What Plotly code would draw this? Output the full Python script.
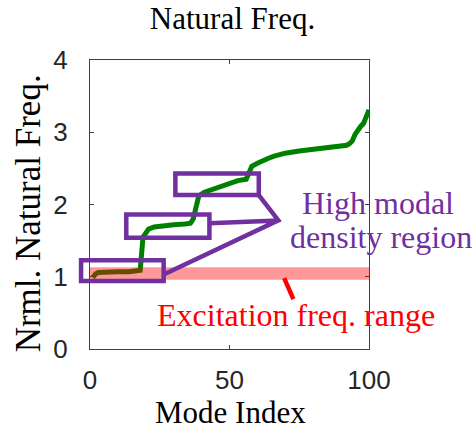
import plotly.graph_objects as go

# ---- data ----
mode_index = [1, 2, 3, 6, 10, 14, 17, 18, 19, 20, 21, 23, 26, 30, 34, 36, 37, 38, 39,
              41, 44, 47, 50, 53, 56, 57, 58, 60, 62, 64, 66, 70, 75, 80, 85, 90,
              92, 93, 94, 95, 96, 97, 98, 99, 100]
nrml_freq = [0.99, 1.04, 1.06, 1.07, 1.07, 1.07, 1.08, 1.09, 1.55, 1.62, 1.66, 1.69, 1.71,
             1.72, 1.73, 1.74, 1.80, 2.00, 2.12, 2.17, 2.21, 2.26, 2.30, 2.33, 2.35, 2.45,
             2.53, 2.57, 2.61, 2.64, 2.67, 2.71, 2.74, 2.76, 2.78, 2.80, 2.82, 2.84, 2.88,
             2.97, 3.04, 3.08, 3.12, 3.24, 3.31]

excitation_band = [0.96, 1.13]           # y-range of excitation frequency band
# high modal density boxes: [x0, x1, y0, y1]
box_x0 = [-3.2, 13.0, 30.6]
box_x1 = [26.4, 42.8, 60.5]
box_y0 = [0.94, 1.54, 2.13]
box_y1 = [1.23, 1.86, 2.43]
# connector start points on boxes and common junction
conn_x = [26.4, 42.8, 60.5]
conn_y = [1.03, 1.74, 2.13]
junction = (67.5, 1.78)
# pointer for excitation label
pointer_x = [69.6, 72.9]
pointer_y = [0.98, 0.69]

x_ticks = [0, 50, 100]
y_ticks = [0, 1, 2, 3, 4]
x_range = [0, 100]
y_range = [0, 4]

PURPLE = "#7030A0"
SERIF = "Liberation Serif, Times New Roman, serif"
SANS = "Liberation Sans, Arial, sans-serif"


def fx(v):
    return (v - x_range[0]) / (x_range[1] - x_range[0])


def fy(v):
    return (v - y_range[0]) / (y_range[1] - y_range[0])


fig = go.Figure()
fig.add_trace(go.Scatter(x=mode_index, y=nrml_freq, mode="lines",
                         line=dict(color="#008000", width=5), showlegend=False,
                         hoverinfo="skip"))

shapes = []
# excitation band (semi-transparent red over the curve)
shapes.append(dict(type="rect", xref="x", yref="y", x0=x_range[0], x1=x_range[1],
                   y0=excitation_band[0], y1=excitation_band[1],
                   fillcolor="rgba(255,0,0,0.4)", line=dict(width=0), layer="above"))
# boxes
for a, b, c, d in zip(box_x0, box_x1, box_y0, box_y1):
    shapes.append(dict(type="rect", xref="paper", yref="paper",
                       x0=fx(a), x1=fx(b), y0=fy(c), y1=fy(d),
                       line=dict(color=PURPLE, width=4.5),
                       fillcolor="rgba(0,0,0,0)", layer="above"))
# connectors
jx, jy = fx(junction[0]), fy(junction[1])
path = (f"M {fx(conn_x[0])},{fy(conn_y[0])} L {jx},{jy} L {fx(conn_x[2])},{fy(conn_y[2])} "
        f"M {fx(conn_x[1])},{fy(conn_y[1])} L {jx},{jy}")
shapes.append(dict(type="path", xref="paper", yref="paper", path=path,
                   line=dict(color=PURPLE, width=4.5), layer="above"))
# red pointer
shapes.append(dict(type="line", xref="x", yref="y", x0=pointer_x[0], y0=pointer_y[0],
                   x1=pointer_x[1], y1=pointer_y[1],
                   line=dict(color="#FF0000", width=4.5), layer="above"))

annotations = [
    dict(text="High modal", x=fx(103.4), y=fy(2.02), xref="paper", yref="paper",
         showarrow=False,
         font=dict(family=SERIF, size=32, color=PURPLE), xanchor="center", yanchor="middle"),
    dict(text="density region", x=fx(104.2), y=fy(1.556), xref="paper", yref="paper",
         showarrow=False,
         font=dict(family=SERIF, size=32, color=PURPLE), xanchor="center", yanchor="middle"),
    dict(text="Excitation freq. range", x=fx(74.0), y=fy(0.472), xref="paper", yref="paper",
         showarrow=False,
         font=dict(family=SERIF, size=32, color="#FF0000"), xanchor="center", yanchor="middle"),
    dict(text="Mode Index", x=0.505, y=-0.219, xref="paper", yref="paper", showarrow=False,
         font=dict(family=SERIF, size=31, color="#000000"), xanchor="center", yanchor="middle"),
    dict(text="Nrml. Natural Freq.", x=-0.219, y=0.469, xref="paper", yref="paper",
         showarrow=False, textangle=-90,
         font=dict(family=SERIF, size=35, color="#000000"), xanchor="center", yanchor="middle"),
]

axis_common = dict(showgrid=False, zeroline=False, showline=True, linecolor="#404040",
                   linewidth=1.2, mirror="allticks", ticks="inside", ticklen=4,
                   tickcolor="#404040", tickwidth=1,
                   tickfont=dict(family=SANS, size=26, color="#262626"))

fig.update_layout(
    width=472, height=434,
    margin=dict(l=90, r=103, t=60, b=85, pad=0),
    paper_bgcolor="white", plot_bgcolor="white",
    title=dict(text="Natural Freq.", x=232.5 / 472, xref="container", xanchor="center",
               y=1 - 17.8 / 434, yref="container", yanchor="middle",
               font=dict(family=SERIF, size=31, color="#000000")),
    xaxis=dict(range=x_range, tickvals=x_ticks, ticktext=[str(t) for t in x_ticks],
               ticklabelstandoff=8, **axis_common),
    yaxis=dict(range=y_range, tickvals=y_ticks, ticktext=[str(t) for t in y_ticks],
               ticklabelstandoff=16, **axis_common),
    shapes=shapes,
    annotations=annotations,
    showlegend=False,
)

fig.write_html("out.html")
